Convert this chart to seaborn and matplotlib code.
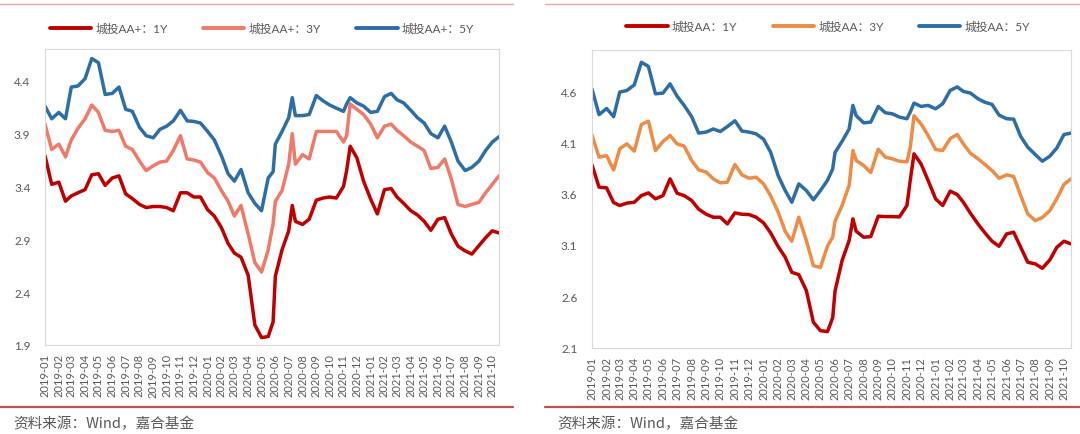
import matplotlib
matplotlib.use("Agg")
import matplotlib.pyplot as plt
from matplotlib.lines import Line2D
import seaborn as sns
import pandas as pd

# semi-monthly readings (1st / 16th) plus a few extra dates at sharp moves
extra_dates = ["2020-05-27", "2020-07-09", "2020-11-08"]
dates = sorted(list(pd.date_range("2019-01-01", "2021-10-16", freq="SMS-16"))
               + [pd.Timestamp(d) for d in extra_dates])

aap_1y = [3.69, 3.42, 3.44, 3.26, 3.31, 3.34, 3.37, 3.51, 3.52, 3.41, 3.48, 3.50,
          3.33, 3.285, 3.23, 3.20, 3.21, 3.21, 3.20, 3.17, 3.34, 3.34, 3.30, 3.30,
          3.18, 3.12, 3.01, 2.86, 2.77, 2.73, 2.56, 2.09, 1.97, 1.98, 2.12, 2.55,
          2.80, 2.98, 3.22, 3.07, 3.04, 3.09, 3.27, 3.29, 3.30, 3.29, 3.40, 3.55,
          3.78, 3.67, 3.45, 3.28, 3.14, 3.37, 3.38, 3.30, 3.24, 3.17, 3.13, 3.07,
          2.985, 3.09, 3.105, 2.95, 2.835, 2.79, 2.76, 2.84, 2.915, 2.98, 2.96]
aap_3y = [3.99, 3.75, 3.80, 3.68, 3.84, 3.95, 4.04, 4.17, 4.10, 3.93, 3.92, 3.93,
          3.78, 3.75, 3.64, 3.55, 3.595, 3.63, 3.64, 3.74, 3.88, 3.66, 3.65, 3.63,
          3.53, 3.48, 3.36, 3.26, 3.12, 3.22, 2.95, 2.68, 2.59, 2.80, 3.05, 3.26,
          3.36, 3.61, 3.90, 3.61, 3.70, 3.66, 3.92, 3.92, 3.92, 3.92, 3.82, 3.88,
          4.18, 4.13, 4.08, 3.99, 3.86, 3.97, 3.99, 3.93, 3.88, 3.82, 3.78, 3.74,
          3.57, 3.58, 3.66, 3.47, 3.23, 3.21, 3.23, 3.25, 3.34, 3.42, 3.50]
aap_5y = [4.16, 4.04, 4.10, 4.04, 4.34, 4.35, 4.42, 4.61, 4.57, 4.27, 4.28, 4.34,
          4.13, 4.11, 3.96, 3.88, 3.86, 3.94, 3.97, 4.02, 4.12, 4.02, 4.015, 4.00,
          3.92, 3.84, 3.69, 3.52, 3.45, 3.56, 3.34, 3.24, 3.17, 3.48, 3.54, 3.80,
          3.92, 4.05, 4.24, 4.07, 4.07, 4.08, 4.26, 4.21, 4.17, 4.14, 4.11, 4.18,
          4.24, 4.19, 4.16, 4.10, 4.11, 4.25, 4.28, 4.22, 4.19, 4.12, 4.05, 4.00,
          3.90, 3.86, 3.97, 3.82, 3.64, 3.55, 3.58, 3.64, 3.74, 3.82, 3.87]

aa_1y = [3.88, 3.663, 3.656, 3.513, 3.484, 3.507, 3.516, 3.581, 3.607, 3.549, 3.581, 3.744,
         3.604, 3.581, 3.533, 3.448, 3.399, 3.37, 3.37, 3.305, 3.412, 3.399, 3.396, 3.37,
         3.315, 3.217, 3.084, 2.98, 2.833, 2.81, 2.655, 2.346, 2.264, 2.255, 2.39, 2.65,
         2.947, 3.142, 3.354, 3.233, 3.175, 3.181, 3.38, 3.376, 3.376, 3.373, 3.484, 3.728,
         3.988, 3.89, 3.728, 3.549, 3.484, 3.624, 3.591, 3.516, 3.409, 3.305, 3.217, 3.136,
         3.087, 3.207, 3.224, 3.077, 2.931, 2.915, 2.872, 2.954, 3.077, 3.136, 3.11]
aa_3y = [4.17, 3.955, 3.97, 3.83, 4.037, 4.085, 4.014, 4.274, 4.306, 4.02, 4.108, 4.167,
         4.085, 4.063, 3.923, 3.832, 3.81, 3.744, 3.705, 3.711, 3.884, 3.783, 3.75, 3.76,
         3.695, 3.58, 3.42, 3.233, 3.136, 3.37, 3.142, 2.898, 2.88, 3.09, 3.175, 3.33,
         3.484, 3.68, 4.02, 3.923, 3.874, 3.806, 4.033, 3.955, 3.939, 3.916, 3.91, 4.05,
         4.359, 4.28, 4.167, 4.03, 4.02, 4.137, 4.176, 4.085, 3.994, 3.94, 3.884, 3.825,
         3.75, 3.783, 3.767, 3.581, 3.402, 3.337, 3.367, 3.435, 3.552, 3.69, 3.744]
aa_5y = [4.62, 4.37, 4.43, 4.35, 4.59, 4.605, 4.66, 4.88, 4.84, 4.573, 4.58, 4.67,
         4.55, 4.46, 4.35, 4.19, 4.20, 4.23, 4.205, 4.254, 4.31, 4.21, 4.20, 4.183,
         4.13, 4.004, 3.776, 3.63, 3.516, 3.695, 3.63, 3.54, 3.63, 3.73, 3.84, 4.00,
         4.11, 4.23, 4.46, 4.36, 4.29, 4.297, 4.45, 4.388, 4.378, 4.346, 4.33, 4.395,
         4.482, 4.45, 4.46, 4.427, 4.476, 4.606, 4.64, 4.596, 4.58, 4.525, 4.49, 4.47,
         4.365, 4.33, 4.326, 4.157, 4.053, 3.98, 3.916, 3.965, 4.046, 4.176, 4.19]

left_labels = ["城投AA+：1Y", "城投AA+：3Y", "城投AA+：5Y"]
right_labels = ["城投AA：1Y", "城投AA：3Y", "城投AA：5Y"]
left_yticks = [1.9, 2.4, 2.9, 3.4, 3.9, 4.4]
right_yticks = [2.1, 2.6, 3.1, 3.6, 4.1, 4.6]
month_ticks = pd.date_range("2019-01-01", "2021-10-01", freq="MS")
source = "资料来源：Wind，嘉合基金"

sns.set_theme(style="white")
plt.rcParams["font.family"] = ["Lato", "Noto Sans CJK SC", "DejaVu Sans"]

W, H = 1080, 435
fig = plt.figure(figsize=(W / 100, H / 100), dpi=100)
ax_l = fig.add_axes([45 / W, 1 - 346 / H, 454 / W, 296 / H])
ax_r = fig.add_axes([592 / W, 1 - 348.5 / H, 479 / W, 297.5 / H])

grey = "#595959"
left_colors = ["#C00000", "#F0796A", "#2E6EA6"]
right_colors = ["#C00000", "#EE8B45", "#2E6EA6"]


def draw_panel(ax, series, colors, labels, yticks, ylim, leg_x, leg_y):
    handles = []
    for vals, c, lab in zip(series, colors, labels):
        sns.lineplot(x=dates, y=vals, ax=ax, color=c, linewidth=2.5, legend=False)
        handles.append(Line2D([], [], color=c, lw=2.8, label=lab))
    ax.set_xlim(dates[0], dates[-1])
    ax.set_ylim(*ylim)
    ax.set_yticks(yticks)
    ax.set_yticklabels([f"{v:.1f}" for v in yticks])
    ax.set_xticks(month_ticks)
    ax.set_xticklabels([d.strftime("%Y-%m") for d in month_ticks], rotation=90)
    ax.tick_params(axis="x", length=0, pad=6, labelsize=8, labelcolor=grey)
    ax.tick_params(axis="y", length=0, pad=10.5, labelsize=8.5, labelcolor=grey)
    ax.set_xlabel("")
    ax.set_ylabel("")
    for s in ax.spines.values():
        s.set_color("#D9D9D9")
        s.set_linewidth(0.8)
    fig.legend(handles=handles, loc="center", bbox_to_anchor=(leg_x, leg_y), ncol=3,
               frameon=False, fontsize=8.5, handlelength=3.5, handletextpad=0.35,
               columnspacing=3.0, labelcolor=grey)


draw_panel(ax_l, [aap_1y, aap_3y, aap_5y], left_colors, left_labels,
           left_yticks, (1.9, 4.7), 262 / W, 1 - 29 / H)
draw_panel(ax_r, [aa_1y, aa_3y, aa_5y], right_colors, right_labels,
           right_yticks, (2.1, 5.0), 828 / W, 1 - 27 / H)

# report frame lines and source notes
for x0, x1 in [(0, 513), (545, W)]:
    fig.add_artist(Line2D([x0 / W, x1 / W], [1 - 5 / H] * 2, color="#E8A8A8", lw=1.0,
                          transform=fig.transFigure))
    fig.add_artist(Line2D([x0 / W, x1 / W], [1 - 408 / H] * 2, color="#C0504D", lw=1.6,
                          transform=fig.transFigure))
for x0 in [13, 557]:
    fig.text(x0 / W, 1 - 424 / H, source, fontsize=10.5, color=grey, va="center",
             family=["Noto Sans CJK SC", "DejaVu Sans"])

fig.savefig("out.png", dpi=100, facecolor="white")
